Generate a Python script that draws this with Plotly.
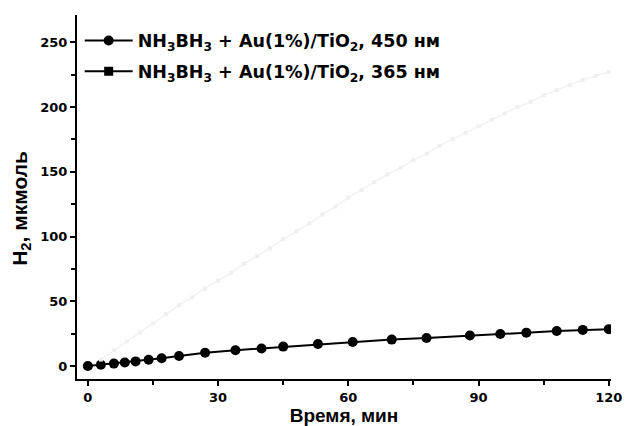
import plotly.graph_objects as go

# Time points (min) and hydrogen evolved (µmol) for each irradiation wavelength
time_450 = [0, 3, 6, 8.5, 11, 14, 17, 21, 27, 34, 40, 45, 53, 61, 70, 78, 88, 95, 101, 108, 114, 120]
h2_450 = [0, 1.0, 1.9, 2.8, 3.6, 4.8, 6.0, 7.7, 10.2, 12.2, 13.6, 15.0, 17.0, 18.6, 20.4, 21.6, 23.6, 24.8, 25.8, 27.0, 27.9, 28.5]

time_365 = [3, 6, 9, 12, 15, 18, 21, 24, 27, 30, 33, 36, 39, 42, 45, 48, 51, 54, 57, 60,
            63, 66, 69, 72, 75, 78, 81, 84, 87, 90, 93, 96, 99, 102, 105, 108, 111, 114, 117, 120]
h2_365 = [5, 12, 19, 26, 33, 40, 47, 53, 60, 66, 72, 79, 85, 91, 98, 104, 110, 117, 123, 130,
          136, 142, 148, 153, 159, 164, 170, 175, 180, 185, 190, 195, 200, 204, 209, 213, 217, 221, 224, 227]

label_450 = "NH<sub>3</sub>BH<sub>3</sub> + Au(1%)/TiO<sub>2</sub>, 450 нм"
label_365 = "NH<sub>3</sub>BH<sub>3</sub> + Au(1%)/TiO<sub>2</sub>, 365 нм"

x_ticks = [0, 30, 60, 90, 120]
y_ticks = [0, 50, 100, 150, 200, 250]

FONT = "Liberation Sans, Arial, sans-serif"
HEAVY = "DejaVu Sans, Liberation Sans, sans-serif"

fig = go.Figure()
fig.add_trace(go.Scatter(
    x=time_450, y=h2_450, name=label_450, mode="lines+markers", legendgroup="a",
    line=dict(color="black", width=2),
    marker=dict(symbol="circle", size=10, color="black"),
))
fig.add_trace(go.Scatter(
    x=time_365, y=h2_365, name=label_365, mode="lines+markers",
    line=dict(color="#f2f2f2", width=1.5),
    marker=dict(symbol="square", size=4, color="#efefef"),
    showlegend=False,
))
# legend-only entry in black for the 365 nm series
fig.add_trace(go.Scatter(
    x=[None], y=[None], name=label_365, mode="lines+markers", legendgroup="b",
    line=dict(color="black", width=2),
    marker=dict(symbol="square", size=9, color="black"),
))

fig.update_layout(
    width=627, height=426,
    margin=dict(l=77, r=16, t=15, b=47),
    paper_bgcolor="white", plot_bgcolor="white",
    font=dict(family=FONT, color="black", weight="bold"),
    showlegend=True,
    legend=dict(
        x=0.005, y=0.979, xanchor="left", yanchor="top",
        bgcolor="rgba(0,0,0,0)", borderwidth=0,
        font=dict(size=17.5, family=HEAVY, weight="bold"),
        itemwidth=48, tracegroupgap=5,
    ),
    xaxis=dict(
        range=[-2.5, 120.5], tickvals=x_ticks, ticktext=[str(v) for v in x_ticks],
        automargin=False,
        showline=True, linecolor="black", linewidth=2, mirror=False,
        ticks="outside", ticklen=5, tickwidth=2, tickcolor="black",
        minor=dict(tickvals=[15, 45, 75, 105], ticks="outside", ticklen=4, tickwidth=2, tickcolor="black"),
        showgrid=False, zeroline=False,
        tickfont=dict(size=13, family=HEAVY, weight="bold"),
        title=dict(text="Время, мин", font=dict(size=19, family=FONT, weight="bold"), standoff=4),
    ),
    yaxis=dict(
        range=[-10, 271], tickvals=y_ticks, ticktext=[str(v) for v in y_ticks],
        automargin=False,
        showline=True, linecolor="black", linewidth=2, mirror=False,
        ticks="outside", ticklen=5, tickwidth=2, tickcolor="black",
        minor=dict(tickvals=[25, 75, 125, 175, 225], ticks="outside", ticklen=4, tickwidth=2, tickcolor="black"),
        showgrid=False, zeroline=False,
        tickfont=dict(size=13, family=HEAVY, weight="bold"),
    ),
    annotations=[dict(
        text="H<sub>2</sub>, мкмоль", textangle=-90, showarrow=False,
        xref="paper", yref="paper", x=-0.105, y=0.47, xanchor="center", yanchor="middle",
        font=dict(size=21, family=FONT, weight="bold", color="black"),
    )],
)

fig.write_html("out.html")
